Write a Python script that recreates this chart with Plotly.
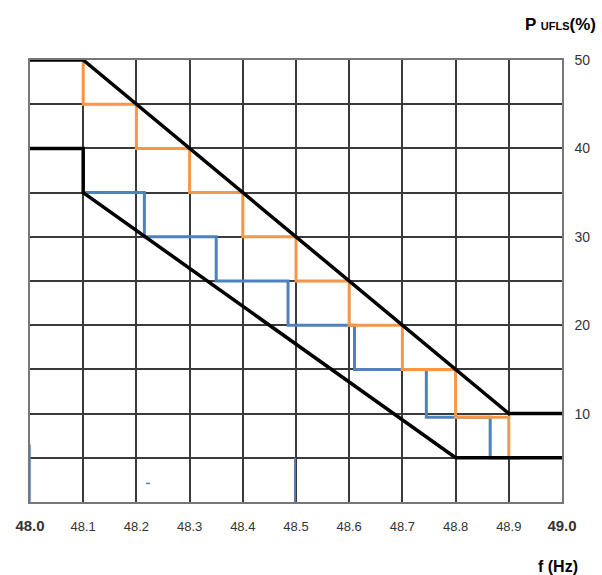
import plotly.graph_objects as go

# ---- data ----
freq_ticks = [48.0, 48.1, 48.2, 48.3, 48.4, 48.5, 48.6, 48.7, 48.8, 48.9, 49.0]
freq_labels = ["48.0", "48.1", "48.2", "48.3", "48.4", "48.5", "48.6", "48.7", "48.8", "48.9", "49.0"]
p_grid = [0, 5, 10, 15, 20, 25, 30, 35, 40, 45, 50]
p_labels = ["", "", "10", "", "20", "", "30", "", "40", "", "50"]

upper_f = [48.0, 48.1, 48.9, 49.0]
upper_p = [50, 50, 10, 10]

lower_f = [48.0, 48.1, 48.1, 48.8, 49.0]
lower_p = [40, 40, 35, 5, 5]

orange_f = [48.1, 48.1, 48.2, 48.2, 48.3, 48.3, 48.4, 48.4, 48.5, 48.5, 48.6, 48.6,
            48.7, 48.7, 48.8, 48.8, 48.9, 48.9, 48.92]
orange_p = [50, 45, 45, 40, 40, 35, 35, 30, 30, 25, 25, 20, 20, 15, 15, 9.6, 9.6, 5, 5]

blue_f = [48.1, 48.215, 48.215, 48.35, 48.35, 48.485, 48.485, 48.61, 48.61, 48.745,
          48.745, 48.865, 48.865, 48.92]
blue_p = [35, 35, 30, 30, 25, 25, 20, 20, 15, 15, 9.6, 9.6, 5, 5]

# small stray blue marks in the original
stray1_f = [48.0, 48.0]
stray1_p = [6.5, 0]
stray2_f = [48.498, 48.498]
stray2_p = [5, 0]
stray3_f = [48.218, 48.226]
stray3_p = [2.1, 2.1]

ORANGE = "#F79646"
BLUE = "#4F81BD"

fig = go.Figure()

for xs, ys, w in [(stray1_f, stray1_p, 1.5), (stray2_f, stray2_p, 2), (stray3_f, stray3_p, 1.5)]:
    fig.add_trace(go.Scatter(x=xs, y=ys, mode="lines",
                             line=dict(color=BLUE, width=w), hoverinfo="skip"))

fig.add_trace(go.Scatter(x=blue_f, y=blue_p, mode="lines",
                         line=dict(color=BLUE, width=3)))
fig.add_trace(go.Scatter(x=orange_f, y=orange_p, mode="lines",
                         line=dict(color=ORANGE, width=3)))
fig.add_trace(go.Scatter(x=upper_f, y=upper_p, mode="lines",
                         line=dict(color="black", width=3.5)))
fig.add_trace(go.Scatter(x=lower_f, y=lower_p, mode="lines",
                         line=dict(color="black", width=3.5)))

xt = []
for lab in freq_labels:
    if lab in ("48.0", "49.0"):
        xt.append("<span style='font-size:15px'><b>" + lab + "</b></span>")
    else:
        xt.append(lab)

fig.update_layout(
    width=602, height=575,
    margin=dict(l=30, r=40, t=60, b=73, autoexpand=False),
    paper_bgcolor="white", plot_bgcolor="white",
    showlegend=False,
    font=dict(family="Liberation Sans, Arial, sans-serif", size=13, color="#333"),
    xaxis=dict(range=[48.0, 49.0], tickvals=freq_ticks, ticktext=xt,
               showgrid=True, gridcolor="#3a3a3a", gridwidth=1.5,
               zeroline=False, showline=True, linecolor="#777", linewidth=1.5,
               mirror=True, ticks="", ticklabelstandoff=12,
               tickfont=dict(size=13, color="#333")),
    yaxis=dict(range=[0, 50], tickvals=p_grid, ticktext=p_labels, side="right",
               showgrid=True, gridcolor="#3a3a3a", gridwidth=1.5,
               zeroline=False, showline=True, linecolor="#777", linewidth=1.5,
               mirror=True, ticks="", ticklabelstandoff=8,
               tickfont=dict(size=14, color="#333")),
    annotations=[
        dict(xref="paper", yref="paper", x=1.0677, y=1.081, xanchor="right",
             yanchor="middle", showarrow=False,
             text="<b>P <span style='font-size:11px'>UFLS</span>(%)</b>",
             font=dict(size=17, color="black")),
        dict(xref="paper", yref="paper", x=0.9925, y=-0.1455, xanchor="center",
             yanchor="middle", showarrow=False,
             text="<b>f (Hz)</b>", font=dict(size=16, color="black")),
    ],
)

fig.write_html("out.html", config={"displayModeBar": False},
               post_script="document.body.style.margin='0px';document.body.style.overflow='hidden';")
